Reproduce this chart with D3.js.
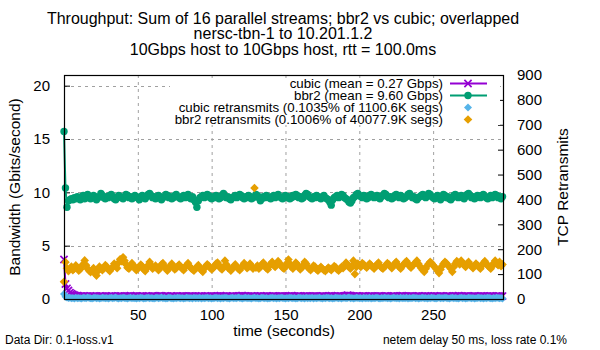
<!DOCTYPE html>
<html><head><meta charset="utf-8">
<script src="https://cdn.jsdelivr.net/npm/d3@7"></script>
<style>body{margin:0;background:#fff}svg{display:block;font-family:"Liberation Sans",Arial,sans-serif}</style>
</head><body><svg id="c" width="600" height="350"></svg>
<script>
const titleLines = ["Throughput: Sum of 16 parallel streams; bbr2 vs cubic; overlapped","nersc-tbn-1 to 10.201.1.2","10Gbps host to 10Gbps host, rtt = 100.0ms"];
const seriesNames = ["cubic (mean = 0.27 Gbps)","bbr2 (mean = 9.60 Gbps)","cubic retransmits (0.1035% of 1100.6K segs)","bbr2 retransmits (0.1006% of 40077.9K segs)"];
const xTicks = [50,100,150,200,250];
const yTicks = [0,5,10,15,20];
const y2Ticks = [0,100,200,300,400,500,600,700,800,900];

const bbr2 = [15.7,10.4,8.6,9.2,9.3,9.4,9.3,9.5,9.4,9.6,
9.5,9.3,9.6,9.7,9.4,9.5,9.8,9.6,9.4,9.5,
9.7,9.6,9.3,9.5,9.6,9.9,9.7,9.5,9.4,9.6,
9.5,9.7,9.8,9.6,9.4,9.3,9.5,9.7,9.6,9.5,
9.4,9.6,9.8,9.7,9.5,9.6,9.4,9.5,9.7,9.6,
9.5,9.3,9.6,9.7,9.5,9.4,9.6,9.8,9.9,9.7,
9.5,9.6,9.4,9.5,9.7,9.6,9.3,9.5,9.6,9.8,
9.7,9.5,9.6,9.4,9.5,9.7,9.8,9.6,9.5,9.4,
9.6,9.7,9.5,9.6,9.8,9.5,9.4,9.6,9.3,9.1,
8.6,9.2,9.5,9.6,9.7,9.5,9.6,9.8,9.7,9.5,
9.4,9.6,9.5,9.7,9.6,9.4,9.5,9.7,9.9,9.6,
9.5,9.6,9.4,9.3,9.5,9.6,9.7,9.5,9.6,9.8,
9.7,9.5,9.4,9.6,9.5,9.7,9.6,9.4,9.5,9.6,
9.8,9.7,9.5,9.2,9.4,9.6,9.5,9.7,9.6,9.5,
9.4,9.6,9.7,9.5,9.6,9.8,9.6,9.5,9.4,9.6,
9.7,9.5,9.6,9.4,9.5,9.7,9.6,9.8,9.7,9.5,
9.6,9.4,9.5,9.7,9.9,9.8,9.6,9.5,9.4,9.6,
9.5,9.7,9.6,9.5,9.4,9.6,9.7,9.5,9.4,9.3,
9.1,8.8,9.3,9.5,9.6,9.7,9.5,9.6,9.8,9.7,
9.5,9.4,9.3,9.1,9.0,9.2,9.5,9.6,9.8,9.9,
9.7,9.6,9.5,9.7,9.6,9.4,9.5,9.7,9.8,9.6,
9.5,9.6,9.7,9.5,9.4,9.6,9.7,9.9,9.8,9.6,
9.5,9.6,9.4,9.5,9.7,9.8,9.6,9.5,9.7,9.6,
9.4,9.5,9.6,9.8,9.9,9.7,9.5,9.6,9.4,9.3,
9.5,9.6,9.7,9.8,9.6,9.5,9.7,9.9,9.8,9.6,
9.5,9.4,9.6,9.7,9.5,9.3,9.6,9.8,9.7,9.5,
9.6,9.4,9.3,9.5,9.7,9.8,9.6,9.5,9.6,9.7,
9.5,9.4,9.6,9.8,9.9,9.7,9.5,9.6,9.4,9.5,
9.7,9.6,9.5,9.7,9.8,9.6,9.5,9.4,9.6,9.7,
9.5,9.6,9.8,9.7,9.5,9.6,9.4,9.6];

const cubic = [3.7,1.4,1.0,0.8,0.6,0.5,0.42,0.36,0.32,0.3,
0.28,0.27,0.26,0.28,0.25,0.26,0.27,0.25,0.28,0.26,
0.25,0.27,0.26,0.24,0.27,0.28,0.26,0.25,0.27,0.26,
0.24,0.26,0.28,0.27,0.25,0.26,0.24,0.27,0.28,0.26,
0.25,0.27,0.26,0.25,0.28,0.30,0.27,0.26,0.25,0.27,
0.26,0.24,0.27,0.28,0.26,0.25,0.27,0.26,0.24,0.26,
0.28,0.27,0.25,0.26,0.27,0.30,0.28,0.26,0.25,0.27,
0.26,0.25,0.27,0.28,0.26,0.24,0.26,0.27,0.25,0.26,
0.28,0.27,0.26,0.25,0.27,0.26,0.28,0.27,0.25,0.26,
0.24,0.26,0.27,0.28,0.26,0.25,0.27,0.26,0.24,0.27,
0.28,0.26,0.25,0.27,0.26,0.28,0.30,0.27,0.26,0.25,
0.27,0.26,0.24,0.27,0.28,0.26,0.25,0.27,0.26,0.28,
0.30,0.31,0.28,0.26,0.27,0.25,0.26,0.28,0.27,0.26,
0.25,0.27,0.26,0.28,0.27,0.25,0.26,0.28,0.27,0.26,
0.25,0.27,0.28,0.26,0.25,0.27,0.26,0.28,0.27,0.26,
0.25,0.27,0.26,0.28,0.30,0.27,0.26,0.25,0.27,0.28,
0.26,0.25,0.27,0.26,0.28,0.27,0.26,0.25,0.27,0.26,
0.28,0.27,0.26,0.25,0.27,0.28,0.26,0.25,0.27,0.26,
0.28,0.30,0.27,0.26,0.25,0.27,0.26,0.28,0.27,0.26,
0.28,0.32,0.35,0.33,0.30,0.28,0.27,0.26,0.28,0.27,
0.26,0.25,0.27,0.28,0.26,0.25,0.27,0.26,0.28,0.27,
0.26,0.25,0.27,0.26,0.28,0.27,0.25,0.26,0.28,0.27,
0.26,0.25,0.27,0.28,0.26,0.25,0.27,0.26,0.28,0.30,
0.27,0.26,0.25,0.27,0.26,0.28,0.27,0.26,0.25,0.27,
0.28,0.26,0.25,0.27,0.26,0.28,0.27,0.26,0.25,0.27,
0.26,0.28,0.27,0.25,0.26,0.28,0.27,0.26,0.25,0.27,
0.28,0.26,0.25,0.27,0.26,0.28,0.27,0.30,0.28,0.26,
0.25,0.27,0.26,0.28,0.27,0.26,0.25,0.27,0.28,0.26,
0.25,0.27,0.26,0.28,0.27,0.26,0.25,0.27,0.26,0.28,
0.27,0.26,0.25,0.27,0.28,0.26,0.25,0.27];

const cubicRetr = [20,9,6,4,5,3,4,2,5,3,
4,3,2,5,4,3,6,4,3,2,
4,5,3,4,2,3,5,4,3,4,
2,4,5,3,4,6,3,2,4,3,
5,4,3,2,4,5,3,4,3,2,
4,3,5,4,2,3,4,5,3,4,
3,2,4,5,3,4,6,3,4,2,
3,5,4,3,2,4,3,5,4,3,
4,2,3,5,4,3,4,2,5,3,
4,3,5,2,4,3,4,5,3,4,
2,3,4,5,3,4,2,4,3,5,
4,3,2,4,5,3,4,3,6,4,
3,2,4,5,3,4,3,2,4,5,
3,4,2,3,5,4,3,4,2,3,
4,5,3,4,2,4,3,5,4,3,
2,4,3,5,4,3,4,2,3,5,
4,3,4,2,5,3,4,3,5,2,
4,3,4,5,3,2,4,3,5,4,
3,4,2,3,5,4,3,4,2,4,
5,3,4,6,3,4,2,3,5,4,
3,4,2,5,3,4,3,5,2,4,
3,4,5,3,2,4,3,5,4,3,
4,2,3,5,4,3,4,2,5,3,
4,3,5,2,4,3,4,5,3,4,
2,3,4,5,3,4,2,4,3,5,
4,3,2,4,5,3,4,3,5,4,
3,2,4,5,3,4,3,2,4,5,
3,4,2,3,5,4,3,4,2,3,
4,5,3,4,2,4,3,5,4,3,
2,4,3,5,4,3,4,2];

const bbr2Retr = [69,148,124,112,120,130,116,122,135,126,
114,120,132,140,155,136,122,114,108,116,
124,102,94,112,130,122,116,124,136,130,
119,112,122,128,142,134,124,146,160,152,
168,154,139,126,122,132,144,136,124,116,
122,130,138,132,119,112,124,136,149,134,
122,128,134,126,116,124,139,144,132,122,
114,126,134,142,129,119,124,132,138,130,
122,116,128,136,144,132,124,119,114,122,
129,136,124,116,109,122,132,139,134,126,
119,124,132,142,146,136,124,119,129,154,
139,126,122,114,124,132,139,129,122,116,
126,134,144,136,124,129,142,132,122,446,
126,134,122,129,139,146,134,124,119,132,
142,149,136,129,139,152,144,134,126,122,
132,144,159,142,129,122,134,146,139,128,
119,126,136,149,142,129,122,116,124,134,
130,119,114,122,129,122,116,112,119,126,
122,116,124,132,128,119,114,122,129,124,
134,146,139,129,122,134,154,100,129,142,
136,129,144,139,132,126,134,142,136,129,
122,132,139,146,134,126,122,129,136,144,
139,132,124,134,142,149,136,129,122,132,
139,146,152,142,132,126,134,140,146,154,
142,132,124,116,109,122,134,142,149,144,
136,129,122,114,104,119,132,142,149,144,
136,129,122,109,129,142,152,146,139,154,
144,136,129,142,149,139,132,124,134,142,
136,129,122,134,144,152,142,134,129,122,
132,144,154,142,136,149,132,139];

const colors = ["#9400d3","#009e73","#56b4e9","#e69f00"];

const svg = d3.select("#c");
const L=64,R=504,T=75,B=299;
const x = d3.scaleLinear().domain([0,298]).range([L,R]);
const y = d3.scaleLinear().domain([0,21]).range([B,T]);
const y2 = d3.scaleLinear().domain([0,900]).range([B,T]);

// title
svg.append("g").selectAll("text").data(titleLines).join("text")
  .attr("x",283).attr("y",(d,i)=>24+i*15.3).attr("text-anchor","middle")
  .attr("font-size",16).attr("fill","#000").text(d=>d);

// grid
const grid = svg.append("g").attr("stroke","#a0a0a0").attr("stroke-dasharray","3,4").attr("stroke-width",1);
grid.selectAll(".gx").data(xTicks).join("line").attr("x1",d=>x(d)+0.5).attr("x2",d=>x(d)+0.5).attr("y1",T).attr("y2",B);
grid.selectAll(".gy").data(yTicks.filter(d=>d>0)).join("line").attr("y1",d=>Math.round(y(d))+0.5).attr("y2",d=>Math.round(y(d))+0.5).attr("x1",L).attr("x2",R);

// axes
const axB = svg.append("g").attr("transform",`translate(0,${B})`)
  .call(d3.axisBottom(x).tickValues(xTicks).tickSizeInner(-6).tickSizeOuter(0).tickPadding(10));
const axL = svg.append("g").attr("transform",`translate(${L},0)`)
  .call(d3.axisLeft(y).tickValues(yTicks).tickSizeInner(-6).tickSizeOuter(0).tickPadding(14));
const axR = svg.append("g").attr("transform",`translate(${R},0)`)
  .call(d3.axisRight(y2).tickValues(y2Ticks).tickSizeInner(-6).tickSizeOuter(0).tickPadding(13));
[axB,axL,axR].forEach(a=>{a.select(".domain").remove();a.selectAll("text").attr("font-size",15).attr("fill","#000").attr("font-family","Liberation Sans, Arial, sans-serif");a.selectAll("line").attr("stroke","#000");});

// data
const plot = svg.append("g");
const idx = d3.range(298);
const lineC = d3.line().x(i=>x(i)).y(i=>y(cubic[i]));
const lineB = d3.line().x(i=>x(i)).y(i=>y(bbr2[i]));
function xMark(g,cx,cy,s,col){g.append("path").attr("d",`M${cx-s},${cy-s}L${cx+s},${cy+s}M${cx-s},${cy+s}L${cx+s},${cy-s}`).attr("stroke",col).attr("stroke-width",1.7).attr("fill","none");}
const dia = s=>`M0,${-s}L${s},0L0,${s}L${-s},0Z`;

plot.append("path").attr("d",lineC(idx)).attr("stroke",colors[0]).attr("stroke-width",2).attr("fill","none");
const gC = plot.append("g");
idx.forEach(i=>xMark(gC,x(i),y(cubic[i]),3.6,colors[0]));

plot.append("path").attr("d",lineB(idx)).attr("stroke",colors[1]).attr("stroke-width",2).attr("fill","none");
plot.append("g").selectAll("circle").data(idx).join("circle").attr("cx",i=>x(i)).attr("cy",i=>y(bbr2[i])).attr("r",3.7).attr("fill",colors[1]);

plot.append("g").selectAll("path").data(idx).join("path").attr("transform",i=>`translate(${x(i)},${y2(cubicRetr[i])})`).attr("d",dia(4)).attr("fill",colors[2]);
plot.append("g").selectAll("path").data(idx).join("path").attr("transform",i=>`translate(${x(i)},${y2(bbr2Retr[i])})`).attr("d",dia(4.3)).attr("fill",colors[3]);

// border
svg.append("rect").attr("x",L+0.5).attr("y",T+0.5).attr("width",R-L-1).attr("height",B-T).attr("fill","none").attr("stroke","#000").attr("stroke-width",1.2);

// legend
const leg = svg.append("g");
leg.append("rect").attr("x",170).attr("y",78).attr("width",330).attr("height",47).attr("fill","#fff");
const rowY = [83.5,95.5,107.5,119.5];
seriesNames.forEach((n,i)=>{
  leg.append("text").attr("x",443).attr("y",rowY[i]+4.5).attr("text-anchor","end").attr("font-size",13.3).attr("fill","#000").text(n);
});
leg.append("line").attr("x1",450).attr("x2",487).attr("y1",rowY[0]).attr("y2",rowY[0]).attr("stroke",colors[0]).attr("stroke-width",2);
xMark(leg,468,rowY[0],3.6,colors[0]);
leg.append("line").attr("x1",450).attr("x2",487).attr("y1",rowY[1]).attr("y2",rowY[1]).attr("stroke",colors[1]).attr("stroke-width",2);
leg.append("circle").attr("cx",468).attr("cy",rowY[1]).attr("r",3.7).attr("fill",colors[1]);
leg.append("path").attr("transform",`translate(468,${rowY[2]})`).attr("d",dia(4)).attr("fill",colors[2]);
leg.append("path").attr("transform",`translate(468,${rowY[3]})`).attr("d",dia(4.3)).attr("fill",colors[3]);

// axis labels
svg.append("text").attr("transform","translate(20,187) rotate(-90)").attr("text-anchor","middle").attr("font-size",15.5).text("Bandwidth (Gbits/second)");
svg.append("text").attr("transform","translate(568,187) rotate(-90)").attr("text-anchor","middle").attr("font-size",15.5).text("TCP Retransmits");
svg.append("text").attr("x",284).attr("y",336).attr("text-anchor","middle").attr("font-size",15.5).text("time (seconds)");
svg.append("text").attr("x",5).attr("y",344).attr("font-size",12).text("Data Dir: 0.1-loss.v1");
svg.append("text").attr("x",567).attr("y",344).attr("text-anchor","end").attr("font-size",12).text("netem delay 50 ms, loss rate 0.1%");
</script></body></html>
